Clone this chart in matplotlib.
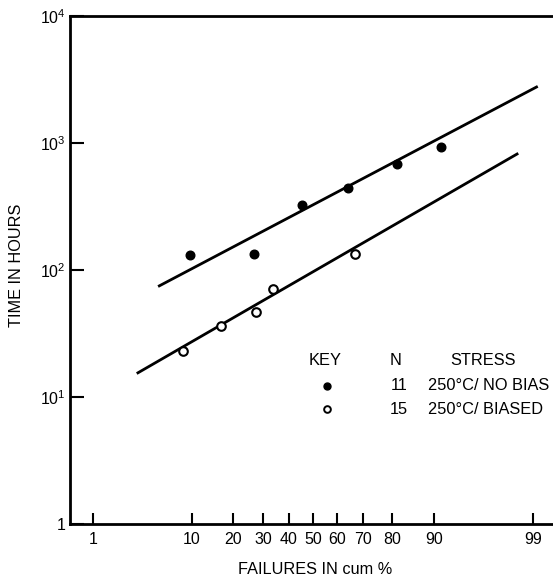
"""Log-normal probability plot: time to failure vs cumulative failures."""

from statistics import NormalDist

import matplotlib
matplotlib.use("Agg")
import matplotlib.pyplot as plt
import numpy as np

plt.rcParams["font.family"] = ["Liberation Sans", "DejaVu Sans"]
plt.rcParams["mathtext.fontset"] = "custom"
plt.rcParams["mathtext.rm"] = "Liberation Sans"
plt.rcParams["mathtext.default"] = "regular"

# ── data ──────────────────────────────────────────────────────────────
# 250°C / no bias (filled)
nobias_pct = [9.6, 26.6, 45.4, 64.4, 81.3, 91.2]
nobias_hours = [131, 134, 325, 442, 684, 930]
nobias_fit_pct = [5.2, 99.1]
nobias_fit_hours = [75, 2760]

# 250°C / biased (open)
biased_pct = [8.4, 16.4, 27.2, 33.6, 67.2]
biased_hours = [23.0, 36.4, 47.0, 70.8, 134]
biased_fit_pct = [3.2, 98.46]
biased_fit_hours = [15.5, 819]

x_ticks = [1, 10, 20, 30, 40, 50, 60, 70, 80, 90, 99]
y_ticks = [1, 10, 100, 1000, 10000]
y_ticklabels = ["1", "$10^{1}$", "$10^{2}$", "$10^{3}$", "$10^{4}$"]

key_rows = [("11", "250°C/ NO BIAS"), ("15", "250°C/ BIASED")]

ND = NormalDist()


def z(pct):
    return np.array([ND.inv_cdf(p / 100.0) for p in np.atleast_1d(pct)])


def main():
    fig = plt.figure(figsize=(5.53, 5.79), dpi=100)
    ax = fig.add_axes([70 / 553, 55 / 579, 483 / 553, 508 / 579])

    ax.plot(z(nobias_fit_pct), nobias_fit_hours, "k-", lw=2)
    ax.plot(z(biased_fit_pct), biased_fit_hours, "k-", lw=2)
    ax.plot(z(nobias_pct), nobias_hours, "o", ms=6.2, mfc="black",
            mec="black", ls="none")
    ax.plot(z(biased_pct), biased_hours, "o", ms=6.2, mfc="white",
            mec="black", mew=1.5, ls="none")

    ax.set_yscale("log")
    ax.set_ylim(1, 1e4)
    ax.set_xlim(-2.571, 2.540)
    ax.set_yticks(y_ticks)
    ax.set_yticklabels(y_ticklabels)
    ax.yaxis.set_minor_locator(matplotlib.ticker.NullLocator())
    ax.set_xticks(z(x_ticks))
    ax.set_xticklabels([str(t) for t in x_ticks])

    ax.tick_params(axis="both", direction="in", width=1.5, labelsize=11.5)
    ax.tick_params(axis="y", length=10, pad=3)
    ax.tick_params(axis="x", length=8, pad=6)

    for side in ("left", "top", "bottom"):
        ax.spines[side].set_linewidth(2)
    ax.spines["right"].set_visible(False)

    # axis titles placed in figure pixels like the reference
    fig.text(17 / 553, 1 - 265 / 579, "TIME IN HOURS", rotation=90,
             ha="center", va="center", fontsize=11.7)
    fig.text(315 / 553, 1 - 570 / 579, "FAILURES IN cum %",
             ha="center", va="center", fontsize=11.7)

    # key table
    tr = ax.transAxes
    fs = 11.8
    ax.text(0.529, 0.321, "KEY", transform=tr, ha="center", va="center",
            fontsize=fs)
    ax.text(0.675, 0.321, "N", transform=tr, ha="center", va="center",
            fontsize=fs)
    ax.text(0.855, 0.321, "STRESS", transform=tr, ha="center", va="center",
            fontsize=fs)
    rows_y = [0.272, 0.226]
    ax.plot([0.532], [rows_y[0]], "o", ms=5, mfc="black", mec="black",
            transform=tr)
    ax.plot([0.532], [rows_y[1]], "o", ms=4.8, mfc="white", mec="black",
            mew=1.4, transform=tr)
    for (n, stress), yy in zip(key_rows, rows_y):
        ax.text(0.681, yy, n, transform=tr, ha="center", va="center",
                fontsize=fs)
        ax.text(0.7406, yy, stress, transform=tr, ha="left", va="center",
                fontsize=fs)

    fig.savefig("out.png", dpi=100)
    plt.close(fig)


if __name__ == "__main__":
    main()
